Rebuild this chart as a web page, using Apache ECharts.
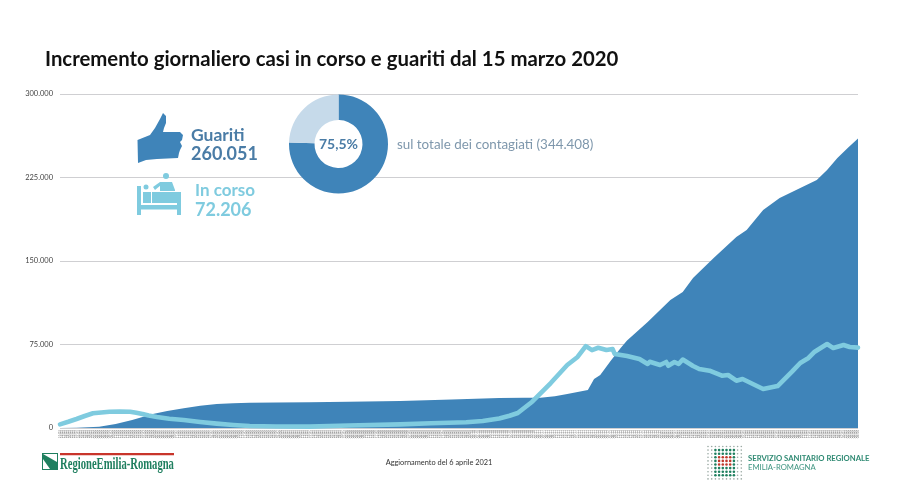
<!DOCTYPE html>
<html><head><meta charset="utf-8">
<style>html,body{margin:0;padding:0;background:#fff}#c{width:900px;height:503px}</style>
<script src="https://cdn.jsdelivr.net/npm/echarts@6/dist/echarts.min.js"></script>
</head><body><div id="c"></div>
<script>
const titleText = 'Incremento giornaliero casi in corso e guariti dal 15 marzo 2020';
const yTicks = [0, 75000, 150000, 225000, 300000];
const firstDay = new Date(Date.UTC(2020, 2, 15));
const dayCount = 388;
const categories = [];
for (let i = 0; i < dayCount; i++) {
  const d = new Date(firstDay.getTime() + i * 86400000);
  categories.push(String(d.getUTCDate()).padStart(2, '0') + '/' + String(d.getUTCMonth() + 1).padStart(2, '0'));
}
const guaritiDays = [0,8,19,27,35,40,45,52,60,68,76,84,92,105,121,140,165,190,213,225,233,240,246,256,259,262,267,272,275,285,296,302,307,317,328,333,341,349,359,367,372,377,382,387];
const guaritiValues = [0,200,1200,3600,7200,9900,12600,15300,17700,19900,21500,22300,22700,23000,23100,23500,24200,25700,26900,27100,27200,28500,30500,34100,44000,47600,60200,72000,78500,95200,114900,122100,134700,152700,171500,177800,195800,206500,215500,222700,231700,242500,251400,260051];
const inCorsoDays = [0,4,8,12,16,20,24,29,34,37,40,43,47,53,60,68,76,84,92,105,121,140,165,180,197,205,213,218,222,229,238,246,251,255,258,261,265,268,269,275,281,285,286,291,294,295,298,300,302,307,310,315,321,324,328,331,341,348,355,359,363,366,372,375,380,383,387];
const inCorsoValues = [3300,5600,8100,10800,13200,13900,14600,14800,14600,13700,12600,11200,9900,8300,7200,5400,3900,2700,1800,1350,1200,2200,3300,4200,5100,6300,8500,11000,13500,23600,40400,56600,63800,73600,70000,72100,70000,70900,66500,64700,62000,57500,59500,56600,59300,55900,59300,57500,61500,55700,53000,51500,47000,47600,42500,44000,35000,37700,50600,58400,62900,68500,75400,71800,74500,72700,72206];
const donutShares = [75.5, 24.5];

const BLUE = '#3f84b9', LINE = '#7fcbdf', TXT = '#4a7ca6', PALE = '#c6daea';
const pair = (days, vals) => days.map((d, i) => [d, vals[i]]);

const dotColor = (c, r) => {
  const dc = Math.abs(c - 4.5), dr = Math.abs(r - 4.5);
  if (dc <= 1.5 && dr <= 1.5 && r >= 3 && r <= 5) return '#c0392b';
  if (dc <= 2.5 && dr <= 3.5) return '#1f7f5f';
  return '#9aa9a3';
};
const dots = [];
for (let r = 0; r < 10; r++) for (let c = 0; c < 10; c++) {
  const inner = Math.abs(c - 4.5) <= 2.5 && Math.abs(r - 4.5) <= 3.5;
  dots.push({ type: 'circle', shape: { cx: 708 + c * 3.7, cy: 446.5 + r * 3.6, r: inner ? 1.3 : 0.8 }, style: { fill: dotColor(c, r) }, silent: true });
}
const txt = (x, y, text, font, fill, extra) => Object.assign({ type: 'text', x, y, silent: true, z: 50,
  style: { text, font, fill, textVerticalAlign: 'middle', textAlign: 'left' } }, extra || {});
const poly = (points, fill, smooth) => ({ type: 'polygon', shape: { points, smooth: smooth || 0 }, style: { fill }, silent: true, z: 50 });
const rect = (x, y, width, height, fill) => ({ type: 'rect', shape: { x, y, width, height }, style: { fill }, silent: true, z: 50 });
const circ = (cx, cy, r, fill) => ({ type: 'circle', shape: { cx, cy, r }, style: { fill }, silent: true, z: 50 });

const graphics = [
  txt(45, 59, titleText, 'bold 20.35px Lato', '#111'),
  poly([[137.5,140],[150,135],[155,128],[160,119],[163,113],[166,116],[166,123],[164,128],[163,132],[180,132],[183,135],[182,140],[180,142],[182,146],[180,150],[179,153],[178,158],[157,159],[146,160],[138,163]], BLUE),
  txt(191, 135, 'Guariti', 'bold 17.5px Lato', TXT),
  txt(191, 154, '260.051', 'bold 18px Lato', TXT),
  rect(137, 186, 4, 29, LINE), rect(177, 193, 4, 22, LINE), rect(137, 205, 44, 4.5, LINE),
  rect(143, 192, 8, 11, LINE), rect(152, 192, 29, 11, LINE), circ(146, 187, 2.5, LINE),
  circ(166, 176, 3, LINE),
  poly([[160,182],[172,182],[175,190],[175,191],[160,191]], LINE),
  poly([[153,187],[160,182],[161,185],[155,190]], LINE),
  txt(195, 191, 'In corso', 'bold 17px Lato', LINE),
  txt(195, 210, '72.206', 'bold 18px Lato', LINE),
  txt(397, 145, 'sul totale dei contagiati (344.408)', '13.4px Lato', '#7e97ac'),
  rect(42, 453, 16, 17, '#1f7f5f'), rect(43, 454, 14, 15, '#fff'),
  poly([[43,454],[57,462],[57,469],[50,469],[43,459]], '#1f7f5f'),
  rect(60, 453, 114, 2.2, '#c8352b'),
  txt(60, 465, 'RegioneEmilia-Romagna', 'bold 17px "Liberation Serif"', '#1f7f5f', { scaleX: 0.625 }),
  txt(439, 463, '', '', '', {style:{text:'Aggiornamento del 6 aprile 2021',font:'7.4px Lato',fill:'#333',textAlign:'center',textVerticalAlign:'middle'}}),
  txt(748, 459, 'SERVIZIO SANITARIO REGIONALE', 'bold 7.7px Lato', '#2f8a73'),
  txt(748, 468, 'EMILIA-ROMAGNA', '7.7px Lato', '#3f9581'),
].concat(dots);

const chart = echarts.init(document.getElementById('c'), null, { renderer: 'canvas' });
chart.setOption({
  animation: false,
  backgroundColor: '#fff',
  grid: { left: 60, right: 42, top: 94, bottom: 75 },
  xAxis: {
    type: 'category', data: categories, boundaryGap: false,
    axisLine: { show: false }, axisTick: { show: false }, splitLine: { show: false },
    axisLabel: { interval: 0, rotate: 90, fontSize: 3, color: '#888', margin: 2, hideOverlap: false, fontFamily: 'Lato' }
  },
  yAxis: {
    type: 'value', min: yTicks[0], max: yTicks[4], interval: yTicks[1],
    axisLine: { show: false }, axisTick: { show: false },
    splitLine: { lineStyle: { color: '#cfcfd2', width: 1 } },
    axisLabel: { fontSize: 7.5, color: '#444', margin: 7, fontFamily: 'Lato',
      formatter: v => String(v).replace(/\B(?=(\d{3})+$)/g, '.') }
  },
  series: [
    { type: 'line', name: 'Guariti', data: pair(guaritiDays, guaritiValues), showSymbol: false, symbol: 'none',
      lineStyle: { width: 0 }, areaStyle: { color: BLUE, opacity: 1 }, itemStyle: { color: BLUE }, z: 2 },
    { type: 'line', name: 'In corso', data: pair(inCorsoDays, inCorsoValues), showSymbol: false, symbol: 'none',
      lineStyle: { width: 4.6, color: LINE, join: 'round', cap: 'round' }, itemStyle: { color: LINE }, z: 3 },
    { type: 'pie', name: 'Quota', center: [338.5, 144], radius: [24, 49.5], startAngle: 90, clockwise: true,
      label: { show: true, position: 'center', formatter: '75,5%', fontSize: 14, fontWeight: 'bold', color: TXT, fontFamily: 'Lato' },
      labelLine: { show: false }, emphasis: { disabled: true }, silent: true, z: 10,
      data: [ { value: donutShares[0], itemStyle: { color: BLUE } }, { value: donutShares[1], itemStyle: { color: PALE }, label: { show: false } } ] }
  ],
  graphic: { elements: graphics }
});
</script></body></html>
